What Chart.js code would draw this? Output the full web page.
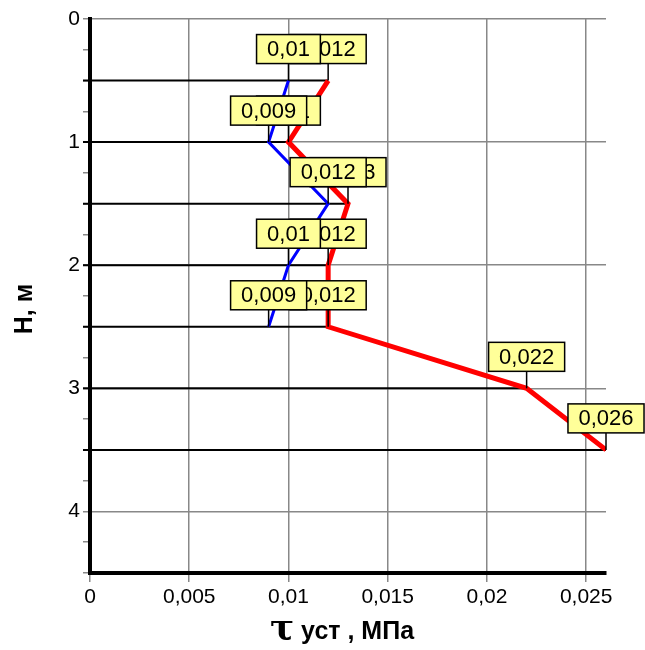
<!DOCTYPE html>
<html>
<head>
<meta charset="utf-8">
<script src="https://cdn.jsdelivr.net/npm/chart.js@4.4.0/dist/chart.umd.min.js"></script>
<style>
    html, body { margin: 0; padding: 0; background: #fff; }
    #wrap { width: 645px; height: 650px; }
</style>
</head>
<body>
<div id="wrap"><canvas id="chart"></canvas></div>
<script>
// глубины, м
const depthsBlue = [0.5, 1, 1.5, 2, 2.5];
const depthsRed = [0.5, 1, 1.5, 2, 2.5, 3, 3.5];
// τ уст, МПа
const tauBlue = [0.01, 0.009, 0.012, 0.01, 0.009];
const tauRed = [0.012, 0.01, 0.013, 0.012, 0.012, 0.022, 0.026];
// оси
const xTicks = [0, 0.005, 0.01, 0.015, 0.02, 0.025];
const yTicks = [0, 1, 2, 3, 4];

const FONT = 'Liberation Sans, Arial, sans-serif';

function fmt(v) {
    return String(+v.toFixed(4)).replace('.', ',');
}

function toPoints(xs, ys) {
    return xs.map((v, i) => ({ x: v, y: ys[i] }));
}

/**
 * Горизонтальные линии от оси до точки (чёрные) — под линиями графика
 */
const dropLines = {
    id: 'dropLines',
    beforeDatasetsDraw(chart) {
        const { ctx, scales: { x, y } } = chart;
        ctx.save();
        ctx.strokeStyle = '#000';
        ctx.lineWidth = 2;
        depthsRed.forEach((d, i) => {
            const py = y.getPixelForValue(d);
            ctx.beginPath();
            ctx.moveTo(x.getPixelForValue(0) - 7, py);
            ctx.lineTo(x.getPixelForValue(tauRed[i]), py);
            ctx.stroke();
        });
        ctx.restore();
    }
};

/**
 * Подписи значений в жёлтых рамках
 */
const valueLabels = {
    id: 'valueLabels',
    afterDatasetsDraw(chart) {
        const { ctx, scales: { x, y } } = chart;
        ctx.save();
        ctx.font = '22px ' + FONT;
        ctx.textAlign = 'center';
        ctx.textBaseline = 'middle';
        const draw = (xs, ys) => {
            xs.forEach((v, i) => {
                const px = x.getPixelForValue(v);
                const py = y.getPixelForValue(ys[i]);
                const text = fmt(v);
                const w = ctx.measureText(text).width + 21;
                const h = 29;
                const bottom = py - 17;
                // выноска
                ctx.strokeStyle = '#000';
                ctx.lineWidth = 1.5;
                ctx.beginPath();
                ctx.moveTo(px, py);
                ctx.lineTo(px, bottom);
                ctx.stroke();
                // рамка
                ctx.fillStyle = '#ffff99';
                ctx.fillRect(px - w / 2, bottom - h, w, h);
                ctx.strokeRect(px - w / 2, bottom - h, w, h);
                ctx.fillStyle = '#000';
                ctx.fillText(text, px, bottom - h / 2 + 1);
            });
        };
        draw(tauRed, depthsRed);
        draw(tauBlue, depthsBlue);
        ctx.restore();
    }
};

/**
 * Подписи осей
 */
const axisTitles = {
    id: 'axisTitles',
    afterDraw(chart) {
        const { ctx, chartArea } = chart;
        ctx.save();
        ctx.fillStyle = '#000';
        ctx.textBaseline = 'alphabetic';

        // Н, м
        ctx.save();
        ctx.translate(32, 309);
        ctx.rotate(-Math.PI / 2);
        ctx.font = 'bold 25px ' + FONT;
        ctx.textAlign = 'center';
        ctx.fillText('Н, м', 0, 0);
        ctx.restore();

        // τ уст , МПа
        const tau = 'τ';
        const rest = ' уст , МПа';
        ctx.font = 'bold 36px DejaVu Serif, serif';
        const wTau = ctx.measureText(tau).width;
        ctx.font = 'bold 25px ' + FONT;
        const wRest = ctx.measureText(rest).width;
        const cx = (chartArea.left + chartArea.right) / 2 - 6;
        let sx = cx - (wTau + wRest) / 2;
        ctx.textAlign = 'left';
        ctx.font = 'bold 36px DejaVu Serif, serif';
        ctx.fillText(tau, sx, 639);
        ctx.font = 'bold 25px ' + FONT;
        ctx.fillText(rest, sx + wTau, 639);
        ctx.restore();
    }
};

const ctx = document.getElementById('chart').getContext('2d');
const chart = new Chart(ctx, {
    type: 'scatter',
    data: {
        datasets: [
            {
                label: 'blue',
                data: toPoints(tauBlue, depthsBlue),
                showLine: true,
                borderColor: '#0000ff',
                backgroundColor: '#0000ff',
                borderWidth: 3,
                pointRadius: 0,
                order: 1
            },
            {
                label: 'red',
                data: toPoints(tauRed, depthsRed),
                showLine: true,
                borderColor: '#ff0000',
                backgroundColor: '#ff0000',
                borderWidth: 5,
                pointRadius: 0,
                order: 2
            }
        ]
    },
    options: {
        responsive: true,
        maintainAspectRatio: false,
        animation: false,
        layout: { padding: { top: 19, right: 39, left: 0, bottom: 0 } },
        plugins: {
            legend: { display: false },
            tooltip: { enabled: false }
        },
        scales: {
            x: {
                type: 'linear',
                position: 'bottom',
                min: 0,
                max: 0.026,
                afterFit: (s) => { s.height = 77; },
                afterBuildTicks: (s) => { s.ticks = xTicks.map(v => ({ value: v })); },
                ticks: {
                    color: '#000',
                    font: { family: FONT, size: 21 },
                    padding: 3,
                    maxRotation: 0,
                    autoSkip: false,
                    callback: (v) => fmt(v)
                },
                grid: { color: '#888', tickColor: '#888', tickLength: 9, lineWidth: 1.5 },
                border: { color: '#000', width: 4 }
            },
            y: {
                type: 'linear',
                reverse: true,
                min: 0,
                max: 4.5,
                afterFit: (s) => { s.width = 90; },
                ticks: {
                    stepSize: 0.25,
                    autoSkip: false,
                    color: '#000',
                    font: { family: FONT, size: 21 },
                    padding: 3,
                    callback: (v) => yTicks.includes(v) ? String(v) : ''
                },
                grid: {
                    color: (c) => yTicks.includes(c.tick.value) ? '#888' : 'transparent',
                    tickColor: '#888',
                    tickLength: 7,
                    lineWidth: 1.5
                },
                border: { color: '#000', width: 4 }
            }
        }
    },
    plugins: [dropLines, valueLabels, axisTitles]
});
</script>
</body>
</html>
